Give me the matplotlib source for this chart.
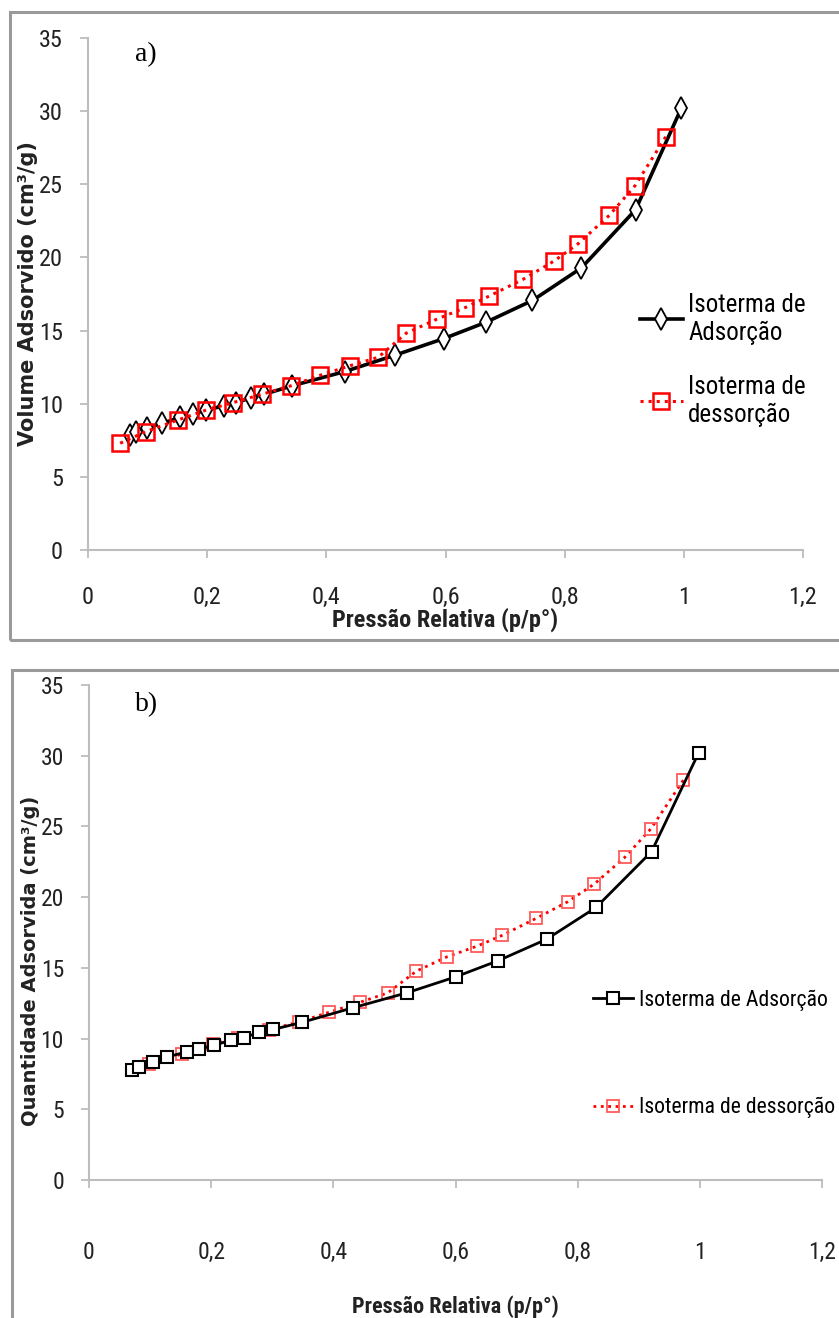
import matplotlib
matplotlib.use("Agg")
import matplotlib.pyplot as plt
from matplotlib.patches import Rectangle
from matplotlib import font_manager as fm

# ---- data (panel a) ----
ads_a_x = [0.070, 0.081, 0.099, 0.125, 0.155, 0.176, 0.198, 0.229, 0.249, 0.274, 0.296,
           0.343, 0.431, 0.516, 0.597, 0.668, 0.746, 0.828, 0.919, 0.996]
ads_a_y = [7.86, 8.06, 8.35, 8.66, 9.07, 9.30, 9.56, 9.87, 10.07, 10.42, 10.65,
           11.23, 12.20, 13.33, 14.45, 15.57, 17.06, 19.28, 23.26, 30.22]
des_a_x = [0.054, 0.097, 0.151, 0.198, 0.243, 0.292, 0.341, 0.390, 0.440, 0.487, 0.534,
           0.585, 0.632, 0.673, 0.730, 0.782, 0.823, 0.875, 0.918, 0.970]
des_a_y = [7.30, 8.09, 8.89, 9.56, 10.07, 10.65, 11.23, 11.95, 12.60, 13.17, 14.82,
           15.77, 16.55, 17.35, 18.50, 19.75, 20.95, 22.88, 24.90, 28.26]

# ---- data (panel b) ----
ads_b_x = [0.070, 0.082, 0.105, 0.128, 0.160, 0.180, 0.205, 0.232, 0.253, 0.278, 0.302,
           0.349, 0.433, 0.520, 0.600, 0.670, 0.749, 0.830, 0.921, 0.998]
ads_b_y = [7.77, 7.96, 8.37, 8.70, 9.06, 9.25, 9.53, 9.88, 10.07, 10.43, 10.65,
           11.15, 12.19, 13.23, 14.36, 15.51, 17.02, 19.27, 23.22, 30.20]
des_b_x = [0.099, 0.153, 0.203, 0.244, 0.294, 0.343, 0.393, 0.444, 0.489, 0.536,
           0.586, 0.635, 0.676, 0.732, 0.784, 0.827, 0.877, 0.920, 0.973]
des_b_y = [8.18, 8.92, 9.61, 10.02, 10.62, 11.17, 11.86, 12.57, 13.23, 14.77,
           15.78, 16.53, 17.29, 18.50, 19.68, 20.92, 22.81, 24.84, 28.27]

xticks = [0, 0.2, 0.4, 0.6, 0.8, 1.0, 1.2]
xtick_labels = ["0", "0,2", "0,4", "0,6", "0,8", "1", "1,2"]
yticks = [0, 5, 10, 15, 20, 25, 30, 35]
ytick_labels = ["0", "5", "10", "15", "20", "25", "30", "35"]


def find_condensed():
    cands = [("Liberation Sans Narrow", "normal", "Narrow"),
             ("Roboto Condensed", "normal", "Condensed"),
             ("Open Sans Condensed", "normal", "Condensed"),
             ("DejaVu Sans", "condensed", "Condensed"),
             ("Noto Sans", "condensed", "Condensed"),
             ("Open Sans", "condensed", "Condensed"),
             ("Roboto", "condensed", "Condensed")]
    for fam, st, key in cands:
        try:
            p = fm.findfont(fm.FontProperties(family=fam, stretch=st), fallback_to_default=False)
            if key.lower() in p.lower():
                return fam, st
        except Exception:
            pass
    return None, None


cfam, cstretch = find_condensed()
if cfam is not None:
    NAR = dict(fontfamily=cfam, fontstretch=cstretch)
    scale = 1.0
else:
    NAR = dict(fontfamily="Liberation Sans", fontstretch="normal")
    scale = 0.85

W, H = 839, 1318
fig = plt.figure(figsize=(W / 100, H / 100), dpi=100)


def fx(px):
    return px / W


def fy(py):
    return 1 - py / H


# panel frames
fig.patches.append(Rectangle((fx(10), fy(640)), fx(860) - fx(10), fy(12) - fy(640),
                             transform=fig.transFigure, fill=False, edgecolor="#9a9a9a", lw=2.2))
fig.patches.append(Rectangle((fx(12), fy(1330)), fx(860) - fx(12), fy(670) - fy(1330),
                             transform=fig.transFigure, fill=False, edgecolor="#9a9a9a", lw=2.2))


def style_axes(ax, xlabel, ylabel, tick_fs, xpad, xl_fs, xlabel_y, yl_fs, ylabel_x, ylabel_y):
    ax.set_xlim(0, 1.2)
    ax.set_ylim(0, 35)
    ax.set_xticks(xticks)
    ax.set_xticklabels(xtick_labels, fontsize=tick_fs * scale, color="#222222", **NAR)
    ax.set_yticks(yticks)
    ax.set_yticklabels(ytick_labels, fontsize=tick_fs * scale, color="#222222", **NAR)
    for s in ["top", "right"]:
        ax.spines[s].set_visible(False)
    for s in ["left", "bottom"]:
        ax.spines[s].set_color("#bdbdbd")
        ax.spines[s].set_linewidth(1.5)
    ax.tick_params(axis="both", direction="out", length=6, width=1.3, color="#bdbdbd")
    ax.tick_params(axis="x", pad=xpad)
    ax.tick_params(axis="y", pad=12)
    ax.set_xlabel(xlabel, fontweight="bold", fontsize=xl_fs * scale, color="#222222", **NAR)
    ax.xaxis.set_label_coords(0.5, xlabel_y)
    ax.xaxis.label.set_verticalalignment("center")
    ax.set_ylabel(ylabel, fontfamily="DejaVu Sans", fontweight="bold", fontsize=yl_fs,
                  color="#222222")
    ax.yaxis.set_label_coords(ylabel_x, ylabel_y)
    ax.yaxis.label.set_verticalalignment("center")


# ---- panel a ----
axa = fig.add_axes([fx(88), fy(550), fx(803) - fx(88), fy(38) - fy(550)])
axa.plot(ads_a_x, ads_a_y, color="black", lw=2.6, marker="d", markersize=11,
         markerfacecolor="white", markeredgecolor="black", markeredgewidth=1.3,
         label="Isoterma de\nAdsorção", zorder=3)
axa.plot(des_a_x, des_a_y, color="red", lw=2.2, ls=":", marker="s", markersize=11,
         markerfacecolor="none", markeredgecolor="red", markeredgewidth=1.8,
         label="Isoterma de\ndessorção", zorder=4)
style_axes(axa, "Pressão Relativa (p/p°)", "Volume Adsorvido (cm³/g)", 17.5, 20,
           17.5, -(620 - 550) / 512, 15, -(88 - 28) / 715, 0.5)
axa.text(fx(135), fy(55), "a)", transform=fig.transFigure, fontfamily="Liberation Serif",
         fontsize=20, va="center", ha="left")
axa.legend(loc="upper left", bbox_to_anchor=(fx(617), fy(270)), bbox_transform=fig.transFigure,
           frameon=False, handlelength=1.75, handletextpad=0.2, labelspacing=1.2,
           prop={"family": NAR["fontfamily"], "stretch": NAR["fontstretch"], "size": 18 * scale})

# ---- panel b ----
axb = fig.add_axes([fx(89), fy(1180), fx(822) - fx(89), fy(685) - fy(1180)])
axb.plot(ads_b_x, ads_b_y, color="black", lw=2.0, marker="s", markersize=9,
         markerfacecolor="white", markeredgecolor="black", markeredgewidth=1.5,
         label="Isoterma de Adsorção", zorder=3)
axb.plot(des_b_x, des_b_y, color="red", lw=2.0, ls=":", marker="s", markersize=8,
         markerfacecolor="none", markeredgecolor="#ff5a5a", markeredgewidth=1.3,
         label="Isoterma de dessorção", zorder=2)
style_axes(axb, "Pressão Relativa (p/p°)", "Quantidade Adsorvida (cm³/g)", 17, 38,
           16, -(1307 - 1180) / 495, 14, -(89 - 31) / 733, (1180 - 961) / 495)
axb.text(fx(135), fy(705), "b)", transform=fig.transFigure, fontfamily="Liberation Serif",
         fontsize=20, va="center", ha="left")
axb.legend(loc="upper left", bbox_to_anchor=(fx(573), fy(970)), bbox_transform=fig.transFigure,
           frameon=False, handlelength=1.83, handletextpad=0.28, labelspacing=3.95,
           prop={"family": NAR["fontfamily"], "stretch": NAR["fontstretch"], "size": 15.7 * scale})

fig.savefig("out.png", dpi=100)
